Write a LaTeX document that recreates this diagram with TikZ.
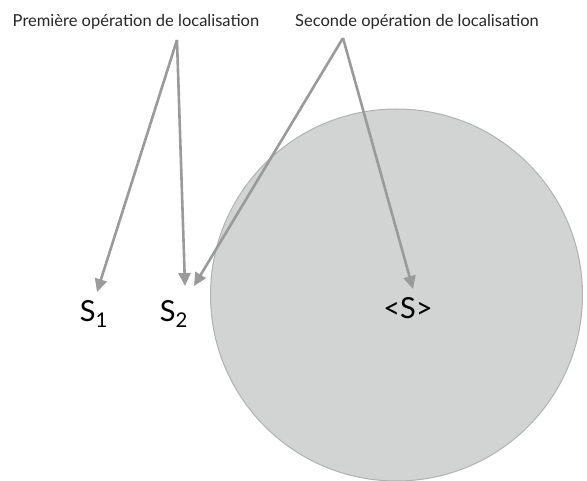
\documentclass[tikz,border=0pt]{standalone}
\usepackage{fontspec}
\setmainfont{Lato}
\usetikzlibrary{arrows.meta}
\definecolor{circfill}{HTML}{D2D3D3}
\definecolor{circline}{HTML}{B0B1B1}
\definecolor{arr}{HTML}{9A9A9A}
\tikzset{
  lbl/.style={inner sep=0pt, font=\fontsize{16.5}{18}\selectfont, text=black!85},
  big/.style={inner sep=0pt, font=\fontsize{29}{32}\selectfont, text=black},
  conn/.style={draw=arr, line width=2.6pt, -{Triangle[length=13pt,width=12pt]}},
}
\begin{document}
\begin{tikzpicture}[x=1pt,y=-1pt]
\useasboundingbox (0,0) rectangle (587,481);
\fill[circfill, draw=circline, line width=1pt] (396.5,295) circle (186);
\node[lbl] (t1) at (136,22) {Première opération de localisation};
\node[lbl] (t2) at (417,22) {Seconde opération de localisation};
\coordinate (a1) at (177,40);
\coordinate (a2) at (343,38);
\node[big] (s1) at (94,314) {S\textsubscript{1}};
\node[big] (s2) at (174,314) {S\textsubscript{2}};
\node[big] (s) at (408,308) {<S>};
\coordinate (p1) at (97,292);
\coordinate (p2) at (185,286);
\coordinate (p3) at (194,286);
\coordinate (p4) at (413,289);
\draw[conn] (a1) -- (p1);
\draw[conn] (a1) -- (p2);
\draw[conn] (a2) -- (p3);
\draw[conn] (a2) -- (p4);
\end{tikzpicture}
\end{document}
